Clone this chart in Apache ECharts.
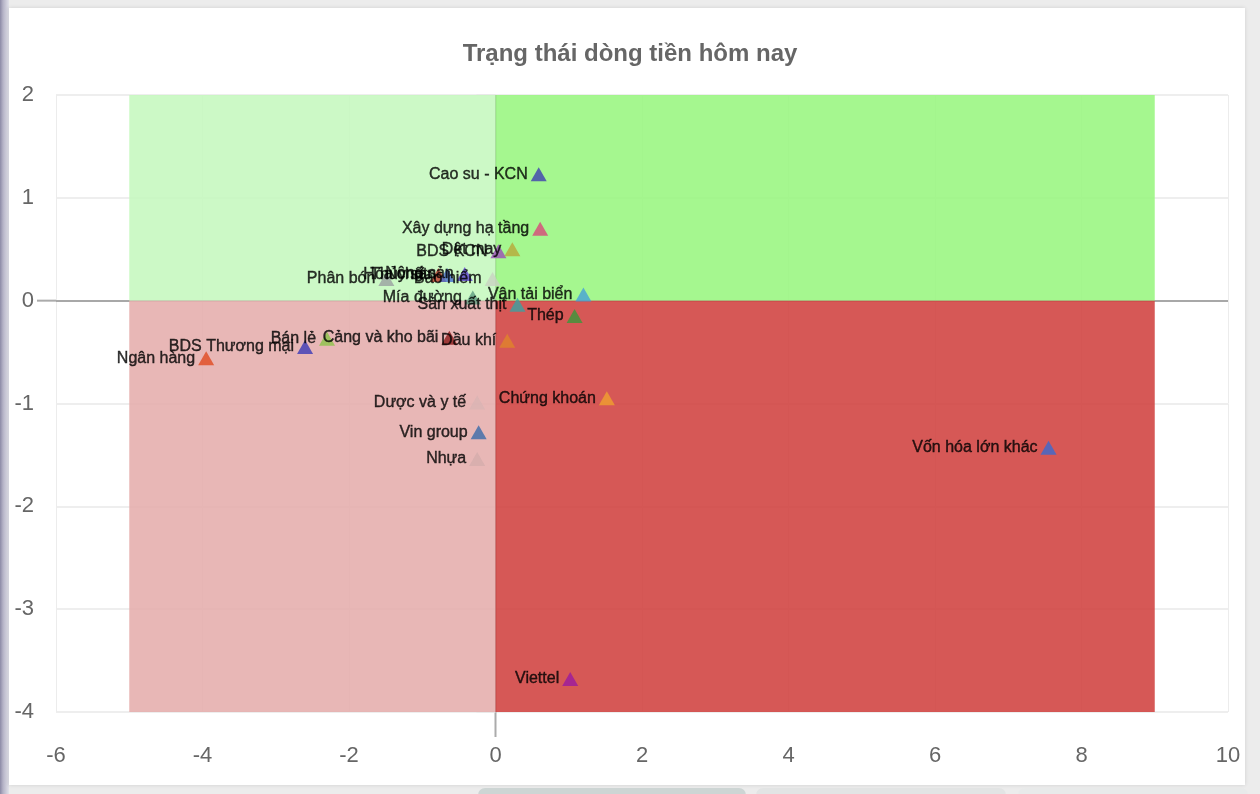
<!DOCTYPE html>
<html>
<head>
<meta charset="utf-8">
<script src="https://cdn.jsdelivr.net/npm/echarts@6/dist/echarts.min.js"></script>
<style>
  html, body { margin: 0; padding: 0; width: 1260px; height: 794px; overflow: hidden; background: #ececec; }
  #leftbar { position: absolute; left: 0; top: 0; width: 9px; height: 794px;
    background: linear-gradient(to right, #8c8aa6 0px, #b4b2c6 3px, #e2e2ea 9px); }
  #card { position: absolute; left: 9px; top: 8px; width: 1236px; height: 777px; background: #fff;
    box-shadow: 0 0 4px rgba(0,0,0,0.12); }
  .tab { position: absolute; top: 788px; height: 14px; border-radius: 8px; background: #d4d8d8; }
  #chart { position: absolute; left: 0; top: 0; width: 1260px; height: 794px; }
</style>
</head>
<body>
<div id="leftbar"></div>
<div id="card"></div>
<div class="tab" style="left:478px;width:268px;background:#cdd5d4;"></div>
<div class="tab" style="left:756px;width:250px;background:#e2e4e4;"></div>
<div class="tab" style="left:1018px;width:230px;background:#e8eaea;"></div>
<div id="chart"></div>
<script>
// ---- data ----
const titleText = 'Trạng thái dòng tiền hôm nay';
const sectorNames = [
  'Cao su - KCN', 'Xây dựng hạ tầng', 'BDS KCN', 'Dệt may',
  'Phân bón', 'Hóa chất', 'Thủy sản', 'Nông sản', 'Bảo hiểm',
  'Mía đường', 'Sản xuất thịt', 'Vận tải biển', 'Thép', 'Dầu khí',
  'Cảng và kho bãi', 'Bán lẻ', 'BDS Thương mại', 'Ngân hàng',
  'Dược và y tế', 'Vin group', 'Nhựa', 'Chứng khoán', 'Vốn hóa lớn khác', 'Viettel'
];
const flowX = [
  0.59, 0.61, 0.04, 0.23,
  -1.49, -0.78, -0.66, -0.42, -0.04,
  -0.31, 0.30, 1.20, 1.08, 0.16,
  -0.63, -2.30, -2.60, -3.95,
  -0.25, -0.23, -0.25, 1.52, 7.55, 1.02
];
const flowY = [
  1.23, 0.70, 0.48, 0.50,
  0.21, 0.25, 0.25, 0.26, 0.21,
  0.03, -0.04, 0.06, -0.15, -0.39,
  -0.36, -0.37, -0.45, -0.56,
  -0.99, -1.28, -1.54, -0.95, -1.43, -3.68
];
const pointColors = [
  '#3f3fb0', '#d8477a', '#9a4bb8', '#b8a83a',
  '#9aa0a0', '#c0392b', '#4a6fd0', '#5a3fd0', '#c9d2c2',
  '#5e9c80', '#3aa3a3', '#45a0d8', '#3a983a', '#e0842a',
  '#8b1a1a', '#8bc34a', '#3a3ab8', '#e04a20',
  '#d9b4b4', '#3a6aaa', '#d4acac', '#f0a030', '#3a6ad0', '#9a1aa0'
];
const xTicks = { min: -6, max: 10, step: 2 };
const yTicks = { min: -4, max: 2, step: 1 };
const zoneX = [-5, 0, 9];
const zoneY = [-4, 0, 2];

// ---- build ----
const points = sectorNames.map((n, i) => ({ name: n, value: [flowX[i], flowY[i]], itemStyle: { color: pointColors[i] } }));
const axisFont = "'Liberation Sans', Arial, sans-serif";
const zeroColor = 'rgba(150,150,150,0.8)';

const chart = echarts.init(document.getElementById('chart'), null, { renderer: 'canvas' });
chart.setOption({
  animation: false,
  backgroundColor: 'transparent',
  title: {
    text: titleText, left: 'center', top: 37,
    textStyle: { fontFamily: axisFont, fontSize: 24, fontWeight: 'bold', color: '#666' }
  },
  grid: { left: 56, right: 32, top: 95, bottom: 82 },
  xAxis: {
    type: 'value', min: xTicks.min, max: xTicks.max, interval: xTicks.step,
    axisLine: { show: false }, axisTick: { show: false },
    axisLabel: { fontFamily: axisFont, fontSize: 22, color: '#666', margin: 33 },
    splitLine: { show: true, lineStyle: { color: '#ececec', width: 1 } }
  },
  yAxis: {
    type: 'value', min: yTicks.min, max: yTicks.max, interval: yTicks.step,
    axisLine: { show: false },
    axisTick: { show: true, length: 19, lineStyle: { color: '#e8e8e8', width: 1.5 } },
    axisLabel: { fontFamily: axisFont, fontSize: 22, color: '#666', margin: 22 },
    splitLine: { show: true, lineStyle: { color: '#e8e8e8', width: 1.5 } }
  },
  series: [
    {
      type: 'scatter', z: 1, symbol: 'none', data: [],
      markLine: {
        z: 1, silent: true, symbol: 'none', label: { show: false },
        lineStyle: { color: zeroColor, width: 2, type: 'solid' },
        data: [{ xAxis: 0 }, { yAxis: 0 }]
      }
    },
    {
      type: 'scatter', z: 2,
      symbol: 'none',
      data: [],
      markArea: {
        z: 2, silent: true,
        data: [
          [{ coord: [zoneX[0], zoneY[1]], itemStyle: { color: 'rgba(199,248,192,0.9)' } }, { coord: [zoneX[1], zoneY[2]] }],
          [{ coord: [zoneX[1], zoneY[1]], itemStyle: { color: 'rgba(155,246,131,0.9)' } }, { coord: [zoneX[2], zoneY[2]] }],
          [{ coord: [zoneX[0], zoneY[0]], itemStyle: { color: 'rgba(230,175,174,0.9)' } }, { coord: [zoneX[1], zoneY[1]] }],
          [{ coord: [zoneX[1], zoneY[0]], itemStyle: { color: 'rgba(209,70,68,0.9)' } }, { coord: [zoneX[2], zoneY[1]] }]
        ]
      }
    },
    {
      type: 'scatter', z: 4,
      symbol: 'triangle', symbolSize: [16, 14],
      data: points
    },
    {
      type: 'scatter', z: 5, silent: true,
      symbol: 'triangle', symbolSize: [16, 14],
      itemStyle: { color: 'rgba(0,0,0,0)' },
      data: points.map(p => ({ name: p.name, value: p.value })),
      label: {
        show: true, position: 'left', distance: 3,
        formatter: '{b}',
        fontFamily: axisFont, fontSize: 16, color: '#000',
        textBorderColor: '#000', textBorderWidth: 0.4
      }
    }
  ]
});

// short tick-like extensions of the zero lines outside the plot, placed via the chart's own scales
const p0 = chart.convertToPixel({ gridIndex: 0 }, [0, 0]);
const pTL = chart.convertToPixel({ gridIndex: 0 }, [xTicks.min, yTicks.max]);
const pBR = chart.convertToPixel({ gridIndex: 0 }, [xTicks.max, yTicks.min]);
const zeroStyle = { stroke: zeroColor, lineWidth: 2 };
chart.setOption({
  graphic: [
    { type: 'line', silent: true, shape: { x1: p0[0], y1: pBR[1], x2: p0[0], y2: pBR[1] + 25 }, style: zeroStyle },
    { type: 'line', silent: true, shape: { x1: pTL[0] - 19, y1: p0[1], x2: pTL[0], y2: p0[1] }, style: zeroStyle }
  ]
});
</script>
</body>
</html>
